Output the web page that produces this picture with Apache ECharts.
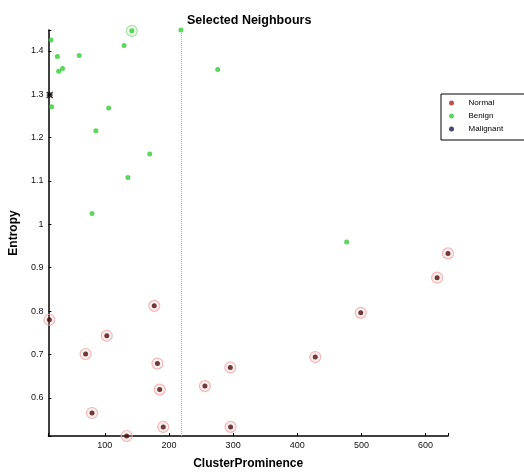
<!DOCTYPE html>
<html>
<head>
<meta charset="utf-8">
<script src="https://cdn.jsdelivr.net/npm/echarts@6/dist/echarts.min.js"></script>
<style>html,body{margin:0;padding:0;background:#fff;}#c{width:524px;height:475px;}</style>
</head>
<body>
<div id="c"></div>
<script>
// ---- data ----
var normalX = [13.5, 70, 103, 177, 182, 185.5, 80, 134, 191, 256, 295.6, 296, 428, 499, 618, 635];
var normalY = [0.780, 0.701, 0.743, 0.812, 0.679, 0.619, 0.565, 0.512, 0.533, 0.627, 0.670, 0.533, 0.694, 0.796, 0.877, 0.933];
var benignX = [16, 26, 28, 34, 60, 17, 106, 86, 130, 142, 218.6, 276, 170, 136, 80, 477];
var benignY = [1.425, 1.387, 1.353, 1.359, 1.389, 1.271, 1.268, 1.216, 1.412, 1.446, 1.448, 1.357, 1.162, 1.108, 1.025, 0.959];
var malignantX = [14];
var malignantY = [1.298];
var selectedNormalIdx = [0,1,2,3,4,5,6,7,8,9,10,11,12,13,14,15];
var selectedBenignIdx = [9];
var thresholdX = 218.6;
var xRange = [12, 635];
var yRange = [0.512, 1.448];
var xTickStep = 100;
var yTickStep = 0.1;

function pairs(xs, ys) { return xs.map(function (x, i) { return [x, ys[i]]; }); }
function pick(xs, ys, idx) { return idx.map(function (i) { return [xs[i], ys[i]]; }); }

var FONT = 'Liberation Sans, Arial, sans-serif';
var chart = echarts.init(document.getElementById('c'), null, {renderer: 'canvas'});
var crossPath = 'path://M0,0L10,10M10,0L0,10M5,0L5,10M0,5L10,5';

chart.setOption({
  animation: false,
  backgroundColor: '#ffffff',
  title: {
    text: 'Selected Neighbours',
    left: 182, top: 9,
    textStyle: {fontFamily: FONT, fontSize: 12.5, fontWeight: 'bold', color: '#000'}
  },
  legend: {
    orient: 'vertical',
    left: 441, top: 94,
    padding: [4, 24, 6, 8],
    itemGap: 3,
    itemWidth: 24, itemHeight: 5,
    borderColor: '#000', borderWidth: 1,
    backgroundColor: '#fff',
    textStyle: {fontFamily: FONT, fontSize: 8, color: '#000', lineHeight: 10},
    data: [
      {name: 'Normal', icon: 'circle', itemStyle: {color: '#b02525', borderWidth: 0}},
      {name: 'Benign', icon: 'circle', itemStyle: {color: '#33cc33', borderWidth: 0}},
      {name: 'Malignant', icon: 'circle', itemStyle: {color: '#1a1a4a', borderWidth: 0}}
    ]
  },
  grid: {left: 47, right: 76, top: 30, bottom: 34},
  xAxis: {
    type: 'value',
    min: xRange[0], max: xRange[1],
    minInterval: xTickStep, maxInterval: xTickStep,
    name: 'ClusterProminence',
    nameLocation: 'middle', nameGap: 22,
    nameTextStyle: {fontFamily: FONT, fontSize: 12, fontWeight: 'bold', color: '#000'},
    axisLine: {show: true, lineStyle: {color: '#000', width: 1.5}},
    axisTick: {show: true, inside: true, length: 3, lineStyle: {color: '#000'}},
    splitLine: {show: false},
    axisLabel: {
      fontFamily: FONT, fontSize: 9, color: '#111', margin: 5,
      formatter: function (v) { return (Math.abs(v / xTickStep - Math.round(v / xTickStep)) < 1e-6) ? String(Math.round(v)) : ''; }
    }
  },
  yAxis: {
    type: 'value',
    min: yRange[0], max: yRange[1],
    minInterval: yTickStep, maxInterval: yTickStep,
    name: 'Entropy',
    nameLocation: 'middle', nameGap: 21,
    nameTextStyle: {fontFamily: FONT, fontSize: 12, fontWeight: 'bold', color: '#000'},
    axisLine: {show: true, lineStyle: {color: '#000', width: 1.5}},
    axisTick: {show: true, inside: true, length: 3, lineStyle: {color: '#000'}},
    splitLine: {show: false},
    axisLabel: {
      fontFamily: FONT, fontSize: 9, color: '#111', margin: 5,
      formatter: function (v) {
        var k = v / yTickStep;
        if (Math.abs(k - Math.round(k)) > 1e-6) return '';
        return String(Math.round(k) / 10);
      }
    }
  },
  series: [
    {
      name: 'selN', type: 'scatter', silent: true, z: 1,
      data: pick(normalX, normalY, selectedNormalIdx),
      symbol: 'circle', symbolSize: 11,
      itemStyle: {color: 'rgba(240,170,170,0.25)', borderColor: '#f0a8a8', borderWidth: 1.2}
    },
    {
      name: 'selB', type: 'scatter', silent: true, z: 1,
      data: pick(benignX, benignY, selectedBenignIdx),
      symbol: 'circle', symbolSize: 11,
      itemStyle: {color: 'rgba(150,220,150,0.25)', borderColor: '#9ad89a', borderWidth: 1.2}
    },
    {
      name: 'Normal', type: 'scatter', z: 3,
      data: pairs(normalX, normalY),
      symbol: 'circle', symbolSize: 5,
      itemStyle: {color: '#4a0c0c'}
    },
    {
      name: 'Benign', type: 'scatter', z: 3,
      data: pairs(benignX, benignY),
      symbol: 'circle', symbolSize: 5,
      itemStyle: {color: '#33cc33'},
      markLine: {
        silent: true, symbol: ['none', 'none'],
        label: {show: false},
        lineStyle: {color: '#b0b0b0', type: 'dotted', width: 1},
        data: [{xAxis: thresholdX}]
      }
    },
    {
      name: 'Malignant', type: 'scatter', z: 4,
      data: pairs(malignantX, malignantY),
      symbol: crossPath, symbolSize: 6,
      itemStyle: {color: 'none', borderColor: '#000', borderWidth: 1.5}
    }
  ]
});
</script>
</body>
</html>
